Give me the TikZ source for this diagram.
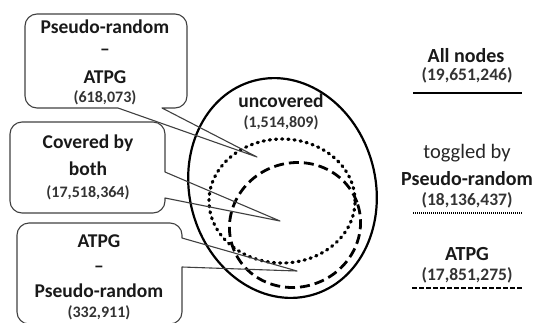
\documentclass[tikz,border=0pt]{standalone}
\usepackage{fontspec}
\setmainfont{Carlito}
\begin{document}
\begin{tikzpicture}[x=1pt,y=-1pt,
  callbox/.style={draw=black!75, line width=1.1pt, line join=round},
  big/.style={font=\fontsize{19.5}{23}\selectfont\bfseries, inner sep=0pt, anchor=base, text=black!90},
  num/.style={font=\fontsize{16}{19}\selectfont\bfseries, inner sep=0pt, anchor=base, text=black!80},
  legbig/.style={font=\fontsize{20}{24}\selectfont\bfseries, inner sep=0pt, anchor=base, text=black!90},
  legreg/.style={font=\fontsize{20.5}{24}\selectfont, inner sep=0pt, anchor=base, text=black!85},
  legnum/.style={font=\fontsize{17.5}{21}\selectfont\bfseries, inner sep=0pt, anchor=base, text=black!80},
  allset/.style={line width=2.2pt},
  prset/.style={line width=3.2pt, dash pattern=on 1.2pt off 5pt, line cap=round},
  atset/.style={line width=2.8pt, dash pattern=on 10pt off 5pt}]
\useasboundingbox (0,0) rectangle (546,322);
\clip (0,0) rectangle (546,322);
% tips of the callouts
\coordinate (t1) at (257,157);
\coordinate (t2) at (280,221);
\coordinate (t3) at (297,271);
% ellipses
\draw[allset] (282.5,188) ellipse[x radius=93pt, y radius=111pt, rotate=15];
\draw[prset] (282,201) ellipse[x radius=73pt, y radius=62pt];
\draw[atset] (295,225) ellipse[x radius=66pt, y radius=62pt, rotate=20];
% callout boxes
\draw[callbox] (37,14) -- (175,14) arc[start angle=90,end angle=0,radius=12pt]
  -- (187,96) arc[start angle=0,end angle=-90,radius=12pt]
  -- (162,108) -- (t1) -- (118,108)
  -- (37,108) arc[start angle=-90,end angle=-180,radius=12pt]
  -- (25,26) arc[start angle=180,end angle=90,radius=12pt] -- cycle;
\draw[callbox] (22,122) -- (153,122) arc[start angle=90,end angle=0,radius=12pt]
  -- (165,172) -- (t2) -- (165,198)
  -- (165,201) arc[start angle=0,end angle=-90,radius=12pt]
  -- (22,213) arc[start angle=-90,end angle=-180,radius=12pt]
  -- (10,134) arc[start angle=180,end angle=90,radius=12pt] -- cycle;
\draw[callbox] (29,223) -- (170,223) arc[start angle=90,end angle=0,radius=12pt]
  -- (182,238) -- (t3) -- (182,267)
  -- (182,312) arc[start angle=0,end angle=-90,radius=12pt]
  -- (29,324) arc[start angle=-90,end angle=-180,radius=12pt]
  -- (17,235) arc[start angle=180,end angle=90,radius=12pt] -- cycle;
% box texts
\node[big] (b1a) at (105,33) {Pseudo-random};
\node[big] (b1b) at (105,55) {–};
\node[big] (b1c) at (105,83) {ATPG};
\node[num] (b1n) at (105,102) {(618,073)};
\node[big] (b2a) at (88,148) {Covered by};
\node[big] (b2b) at (88,175) {both};
\node[num] (b2n) at (88,197) {(17,518,364)};
\node[big] (b3a) at (99,247) {ATPG};
\node[big] (b3b) at (99,272) {–};
\node[big] (b3c) at (99,297) {Pseudo-random};
\node[num] (b3n) at (99,317) {(332,911)};
\node[big] (unc) at (281,107) {uncovered};
\node[num] (uncn) at (281,127) {(1,514,809)};
% legend
\node[legbig] (l1) at (466,62) {All nodes};
\node[legnum] (l1n) at (467,80) {(19,651,246)};
\coordinate (l1s) at (413,93);
\coordinate (l1e) at (522,93);
\draw[line width=2pt] (l1s) -- (l1e);
\node[legreg] (l2a) at (467,158) {toggled by};
\node[legbig] (l2b) at (467,185) {Pseudo-random};
\node[legnum] (l2n) at (467,205) {(18,136,437)};
\coordinate (l2s) at (413,213);
\coordinate (l2e) at (522,213);
\draw[line width=1.2pt, dash pattern=on 1pt off 1pt] (l2s) -- (l2e);
\node[legbig] (l3) at (467,260) {ATPG};
\node[legnum] (l3n) at (467,280) {(17,851,275)};
\coordinate (l3s) at (412,288);
\coordinate (l3e) at (523,288);
\draw[line width=1.8pt, dash pattern=on 5pt off 2pt] (l3s) -- (l3e);
\end{tikzpicture}
\end{document}
